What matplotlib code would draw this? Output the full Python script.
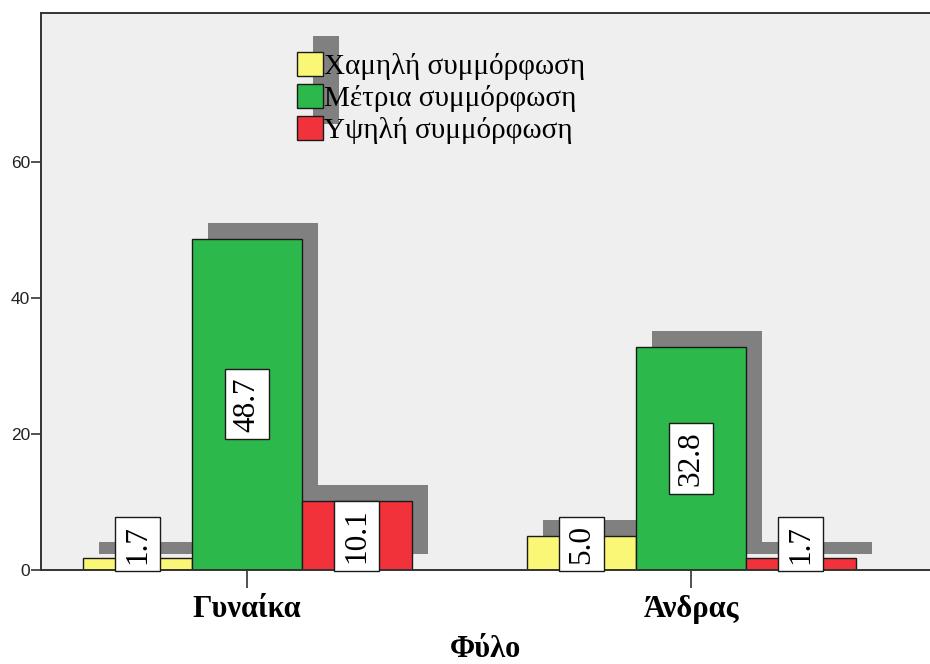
import numpy as np
import matplotlib
matplotlib.use('Agg')
import matplotlib.pyplot as plt
import matplotlib.patches as patches
import matplotlib.transforms as mtransforms

# data (percent)
groups = ['Γυναίκα', 'Άνδρας']
series = ['Χαμηλή συμμόρφωση', 'Μέτρια συμμόρφωση', 'Υψηλή συμμόρφωση']
low = [1.7, 5.0]
mid = [48.7, 32.8]
high = [10.1, 1.7]
colors = ['#faf776', '#2db84b', '#f2323b']
yticks = [0, 20, 40, 60]

SERIF = ['Liberation Serif', 'DejaVu Serif']
SANS = ['Liberation Sans', 'DejaVu Sans']

fig = plt.figure(figsize=(9.3, 6.64), dpi=100)
ax = fig.add_axes([0.0441, 0.1416, 0.9559, 0.8388])
ax.set_facecolor('#efefef')

x = np.arange(len(groups))
width = 0.247
values = [low, mid, high]

# drop shadow: same bars shifted 16 px up and right
shift = mtransforms.ScaledTranslation(0.16, 0.16, fig.dpi_scale_trans)
for i, vals in enumerate(values):
    ax.bar(x + (i - 1) * width, vals, width, color='#808080', linewidth=0,
           transform=ax.transData + shift, zorder=1)

for i, vals in enumerate(values):
    ax.bar(x + (i - 1) * width, vals, width, color=colors[i],
           edgecolor='#1a1a1a', linewidth=1.0, zorder=2, label=series[i])
    for xi, v in zip(x + (i - 1) * width, vals):
        ax.text(xi, max(v / 2, 3.8), f'{v:.1f}', rotation=90,
                ha='center', va='center', fontsize=22.5, family=SERIF, zorder=3,
                bbox=dict(boxstyle='square,pad=0.25', facecolor='white',
                          edgecolor='#1a1a1a', linewidth=1.0))

ax.set_xlim(-0.464, 1.538)
ax.set_ylim(0, 81.9)
ax.set_yticks(yticks)
ax.set_yticklabels([str(t) for t in yticks], family=SANS, fontsize=12.5, color='#222222')
ax.set_xticks(x)
ax.set_xticklabels(groups, family=SERIF, fontsize=22, fontweight='bold')
ax.tick_params(axis='y', length=7, width=1.2, color='#333333', pad=1)
ax.tick_params(axis='x', length=13, width=1.2, color='#333333', pad=5)
ax.set_xlabel('Φύλο', family=SERIF, fontsize=22, fontweight='bold', labelpad=8)

for s in ['left', 'top', 'bottom']:
    ax.spines[s].set_color('#333333')
    ax.spines[s].set_linewidth(1.4)
ax.spines['right'].set_visible(False)

leg = ax.legend(loc='upper left', bbox_to_anchor=(0.3194, 0.9217),
                bbox_transform=fig.transFigure, frameon=False, borderpad=0,
                borderaxespad=0, handlelength=0.89, handleheight=0.89,
                handletextpad=0.05, labelspacing=0.14,
                prop={'family': SERIF, 'size': 21})
leg.set_zorder(5)

# shadow behind the legend swatches
fig.canvas.draw()
renderer = fig.canvas.get_renderer()
ext = mtransforms.Bbox.union([h.get_window_extent(renderer) for h in leg.legend_handles])
ax.add_patch(patches.Rectangle((ext.x0 + 16, ext.y0 + 16), ext.width, ext.height,
                               transform=None, facecolor='#808080', linewidth=0, zorder=4))

fig.savefig('out.png', dpi=100)
